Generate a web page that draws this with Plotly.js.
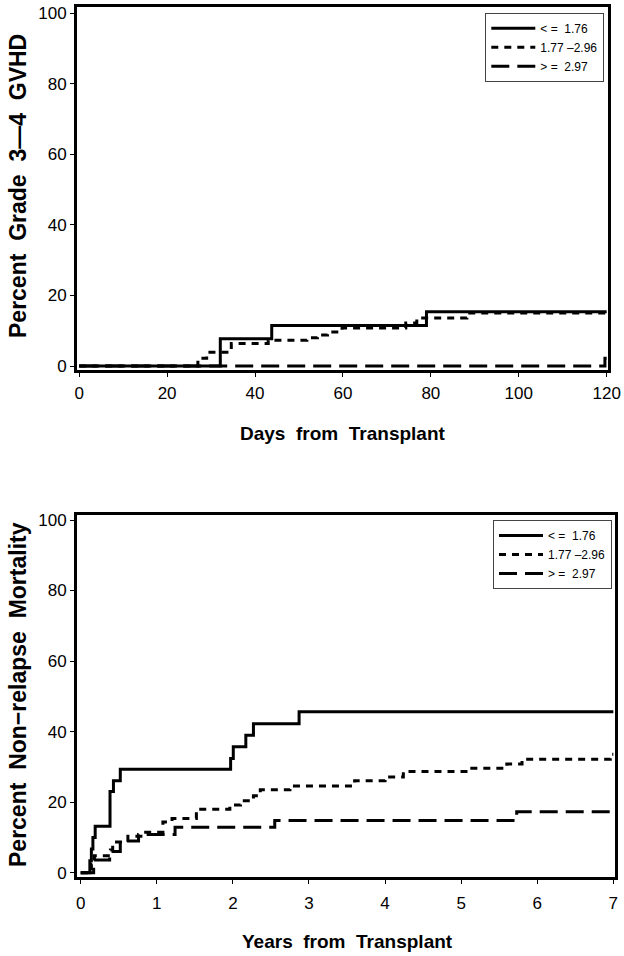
<!DOCTYPE html>
<html>
<head>
<meta charset="utf-8">
<script src="https://cdn.plot.ly/plotly-3.0.1.min.js"></script>
<style>body{margin:0;background:#fff}</style>
</head>
<body>
<div id="chart" style="width:624px;height:956px"></div>
<script>
// ---- Data: top panel (Grade 3-4 GVHD, days) ----
const seriesNames = ["<\u00a0=\u00a0\u00a01.76", "1.77\u00a0\u20132.96", ">\u00a0=\u00a0\u00a02.97"];

const gvhdDaysLow = [0, 32.1, 43.8, 79, 120];
const gvhdPctLow  = [0, 7.7, 11.5, 15.4, 15.4];

const gvhdDaysMid = [0, 27, 29, 34.6, 43, 51.8, 54.2, 56.5, 59.8, 74.3, 76.8, 88.2, 120];
const gvhdPctMid  = [0, 2.2, 3.9, 6.4, 7.3, 8.0, 8.8, 9.6, 10.8, 12.2, 13.6, 15.0, 15.0];

const gvhdDaysHigh = [0, 119.6, 120];
const gvhdPctHigh  = [0, 2.2, 2.2];

// ---- Data: bottom panel (Non-relapse mortality, years) ----
const nrmYearsLow = [0, 0.12, 0.14, 0.16, 0.19, 0.385, 0.43, 0.52, 1.97, 2.005, 2.17, 2.27, 2.87, 7.0];
const nrmPctLow   = [0, 3.4, 6.7, 10.0, 13.2, 23.0, 26.1, 29.3, 32.4, 35.7, 39.0, 42.2, 45.6, 45.6];

const nrmYearsMid = [0, 0.14, 0.18, 0.39, 0.42, 0.62, 0.82, 1.08, 1.2, 1.52, 1.96, 2.1, 2.27, 2.36, 2.75, 3.6, 4.0, 4.24, 5.12, 5.6, 5.8, 6.96, 7.0];
const nrmPctMid   = [0, 2.4, 4.8, 6.4, 8.7, 10.3, 11.5, 14.4, 15.4, 18.0, 19.2, 20.4, 21.8, 23.5, 24.6, 26.1, 27.1, 28.7, 29.6, 30.8, 32.2, 33.6, 33.6];

const nrmYearsHigh = [0, 0.17, 0.38, 0.52, 0.76, 1.24, 2.55, 5.73, 7.0];
const nrmPctHigh   = [0, 3.6, 6.0, 9.0, 10.8, 12.9, 14.8, 17.3, 17.3];

const yTicks = [0, 20, 40, 60, 80, 100];
const dayTicks = [0, 20, 40, 60, 80, 100, 120];
const yearTicks = [0, 1, 2, 3, 4, 5, 6, 7];

// ---- Styles ----
const W = 624, H = 956;
const FONT = "Arial, 'Liberation Sans', Helvetica, sans-serif";
const styles = [
  {color: "#000", width: 3, dash: "solid"},
  {color: "#000", width: 3, dash: "7px,6px"},
  {color: "#000", width: 3, dash: "18px,8px"}
];

function stepTrace(x, y, i, xa, ya, leg) {
  return {
    x: x, y: y, type: "scatter", mode: "lines",
    line: Object.assign({shape: "hv"}, styles[i]),
    name: seriesNames[i], xaxis: xa, yaxis: ya, legend: leg,
    hoverinfo: "skip"
  };
}

const data = [
  stepTrace(gvhdDaysLow, gvhdPctLow, 0, "x", "y", "legend"),
  stepTrace(gvhdDaysMid, gvhdPctMid, 1, "x", "y", "legend"),
  stepTrace(gvhdDaysHigh, gvhdPctHigh, 2, "x", "y", "legend"),
  stepTrace(nrmYearsLow, nrmPctLow, 0, "x2", "y2", "legend2"),
  stepTrace(nrmYearsMid, nrmPctMid, 1, "x2", "y2", "legend2"),
  stepTrace(nrmYearsHigh, nrmPctHigh, 2, "x2", "y2", "legend2")
];

const px = v => v / W;
const py = v => 1 - v / H;

const axisBase = {
  showline: true, mirror: true, linecolor: "#000", linewidth: 3,
  showgrid: false, zeroline: false,
  ticks: "outside", ticklen: 4, tickwidth: 1, tickcolor: "#000",
  tickfont: {family: FONT, size: 17, color: "#000"},
  fixedrange: true
};

const legendBase = {
  bgcolor: "#fff", bordercolor: "#444", borderwidth: 1,
  font: {family: FONT, size: 12, color: "#000"},
  xanchor: "right", yanchor: "top",
  tracegroupgap: 0, itemwidth: 44
};

const xTitleFont = {family: FONT, size: 19, color: "#000", weight: "bold"};
const yTitleFont = {family: FONT, size: 23, color: "#000", weight: "bold"};

const layout = {
  width: W, height: H,
  margin: {l: 0, r: 0, t: 0, b: 0},
  paper_bgcolor: "#fff", plot_bgcolor: "#fff",
  showlegend: true,
  xaxis: Object.assign({}, axisBase, {
    domain: [px(77), px(608)], range: [-0.5, 120.3],
    tickvals: dayTicks, anchor: "y", ticklabelstandoff: 2
  }),
  yaxis: Object.assign({}, axisBase, {
    domain: [py(370), py(7)], range: [-1.13, 101.7],
    tickvals: yTicks, anchor: "x"
  }),
  xaxis2: Object.assign({}, axisBase, {
    domain: [px(77), px(615)], range: [-0.049, 7.022],
    tickvals: yearTicks, anchor: "y2", ticklabelstandoff: 5
  }),
  yaxis2: Object.assign({}, axisBase, {
    domain: [py(877), py(514.5)], range: [-1.22, 101.56],
    tickvals: yTicks, anchor: "x2"
  }),
  legend: Object.assign({}, legendBase, {x: px(604.3), y: py(12.7)}),
  legend2: Object.assign({}, legendBase, {x: px(612), y: py(520)}),
  annotations: [
    {text: "Days  from  Transplant", xref: "paper", yref: "paper",
     x: px(343), y: py(433), showarrow: false, font: xTitleFont,
     xanchor: "center", yanchor: "middle"},
    {text: "Years  from  Transplant", xref: "paper", yref: "paper",
     x: px(347), y: py(941), showarrow: false, font: xTitleFont,
     xanchor: "center", yanchor: "middle"},
    {text: "Percent  Grade  3\u20144  GVHD", xref: "paper", yref: "paper",
     x: px(18), y: py(186), showarrow: false, font: yTitleFont, textangle: -90,
     xanchor: "center", yanchor: "middle"},
    {text: "Percent  Non\u2212relapse  Mortality", xref: "paper", yref: "paper",
     x: px(18), y: py(695), showarrow: false, font: yTitleFont, textangle: -90,
     xanchor: "center", yanchor: "middle"}
  ]
};

Plotly.newPlot("chart", data, layout, {staticPlot: true, displayModeBar: false});
</script>
</body>
</html>
